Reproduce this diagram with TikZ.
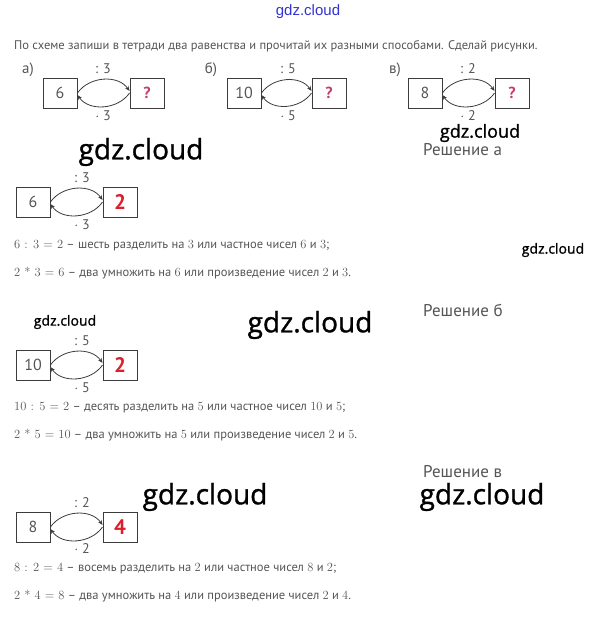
\documentclass[tikz,border=0pt]{standalone}
\usepackage{fontspec}
\usepackage{xcolor}
\usepackage{tikz}
\usetikzlibrary{arrows.meta, positioning}
\newfontfamily\ru{PT Sans}
\newfontfamily\wm[FakeBold=1.2]{Open Sans}
\newfontfamily\hd{Liberation Sans}
\definecolor{textgray}{RGB}{85,85,85}
\definecolor{boxgray}{RGB}{60,60,60}
\definecolor{ansred}{RGB}{220,30,45}
\definecolor{qpink}{RGB}{200,60,110}
\definecolor{wmblue}{RGB}{50,50,210}
\newcommand{\nm}[1]{{\rmfamily #1}}

\begin{document}
\begin{tikzpicture}[
    x=1pt, y=-1pt,
    numbox/.style={draw=boxgray, line width=0.9pt, minimum width=34pt, minimum height=30pt, inner sep=0pt, text=textgray, font=\ru\fontsize{16}{16}\selectfont},
    oplabel/.style={inner sep=0pt, text=textgray, font=\ru\fontsize{14}{14}\selectfont},
    arc/.style={draw=boxgray, line width=0.8pt, -{Stealth[length=5pt, width=4pt]}},
    eqline/.style={anchor=west, inner sep=0pt, text=textgray, font=\ru\fontsize{12.5}{12.5}\selectfont},
    heading/.style={anchor=west, inner sep=0pt, text=textgray, font=\ru\fontsize{17}{17}\selectfont},
    wmark/.style={inner sep=0pt, text=black, font=\wm\fontsize{#1}{#1}\selectfont}
]
    \useasboundingbox (0,0) rectangle (616,625);

    % Task
    \node[inner sep=0pt, text=wmblue, font=\hd\fontsize{15}{15}\selectfont] (top) at (308,12) {gdz.cloud};
    \node[eqline] (task) at (14,46) {По схеме запиши в тетради два равенства и прочитай их разными способами. Сделай рисунки.};

    % Schemes of the task
    \node[oplabel, font=\ru\fontsize{15}{15}\selectfont] (la) at (28,70) {а)};
    \node[numbox] (a6) at (60,93) {6};
    \node[numbox, text=qpink, font=\ru\bfseries\fontsize{16}{16}\selectfont] (aq) at (147,93) {?};
    \node[oplabel] (adiv) at (103,69) {: 3};
    \node[oplabel] (amul) at (103,116) {$\cdot$ 3};
    \draw[arc] (a6.east) to[out=55, in=125] ([yshift=2pt]aq.west);
    \draw[arc] (aq.west) to[out=-125, in=-55] ([yshift=-2pt]a6.east);

    \node[oplabel, font=\ru\fontsize{15}{15}\selectfont] (lb) at (211,70) {б)};
    \node[numbox] (b10) at (244,93) {10};
    \node[numbox, text=qpink, font=\ru\bfseries\fontsize{16}{16}\selectfont] (bq) at (329,93) {?};
    \node[oplabel] (bdiv) at (288,69) {: 5};
    \node[oplabel] (bmul) at (288,116) {$\cdot$ 5};
    \draw[arc] (b10.east) to[out=55, in=125] ([yshift=2pt]bq.west);
    \draw[arc] (bq.west) to[out=-125, in=-55] ([yshift=-2pt]b10.east);

    \node[oplabel, font=\ru\fontsize{15}{15}\selectfont] (lc) at (395,70) {в)};
    \node[numbox] (c8) at (425,93) {8};
    \node[numbox, text=qpink, font=\ru\bfseries\fontsize{16}{16}\selectfont] (cq) at (512,93) {?};
    \node[oplabel] (cdiv) at (468,69) {: 2};
    \node[oplabel] (cmul) at (468,116) {$\cdot$ 2};
    \draw[arc] (c8.east) to[out=55, in=125] ([yshift=2pt]cq.west);
    \draw[arc] (cq.west) to[out=-125, in=-55] ([yshift=-2pt]c8.east);

    % Solution a
    \node[wmark=18] (wm1) at (480,133) {gdz.cloud};
    \node[heading] (sola) at (423,150) {Решение а};
    \node[wmark=28] (wm2) at (141,152) {gdz.cloud};
    \node[numbox] (s6) at (33,202) {6};
    \node[numbox, text=ansred, font=\ru\bfseries\fontsize{21}{21}\selectfont] (s2) at (120,202) {2};
    \node[oplabel] (sdiv) at (82,178) {: 3};
    \node[oplabel] (smul) at (82,225) {$\cdot$ 3};
    \draw[arc] (s6.east) to[out=55, in=125] ([yshift=2pt]s2.west);
    \draw[arc] (s2.west) to[out=-125, in=-55] ([yshift=-2pt]s6.east);
    \node[eqline] (eqa1) at (14,246) {\nm{6 : 3 = 2} – шесть разделить на \nm{3} или частное чисел \nm{6} и \nm{3};};
    \node[wmark=14] (wm3) at (553,250) {gdz.cloud};
    \node[eqline] (eqa2) at (14,273) {\nm{2 * 3 = 6} – два умножить на \nm{6} или произведение чисел \nm{2} и \nm{3}.};

    % Solution b
    \node[heading] (solb) at (423,310) {Решение б};
    \node[wmark=14] (wm4) at (65,322) {gdz.cloud};
    \node[wmark=28] (wm5) at (310,325) {gdz.cloud};
    \node[numbox] (t10) at (33,365) {10};
    \node[numbox, text=ansred, font=\ru\bfseries\fontsize{21}{21}\selectfont] (t2) at (120,365) {2};
    \node[oplabel] (tdiv) at (82,341) {: 5};
    \node[oplabel] (tmul) at (82,388) {$\cdot$ 5};
    \draw[arc] (t10.east) to[out=55, in=125] ([yshift=2pt]t2.west);
    \draw[arc] (t2.west) to[out=-125, in=-55] ([yshift=-2pt]t10.east);
    \node[eqline] (eqb1) at (14,408) {\nm{10 : 5 = 2} – десять разделить на \nm{5} или частное чисел \nm{10} и \nm{5};};
    \node[eqline] (eqb2) at (14,435) {\nm{2 * 5 = 10} – два умножить на \nm{5} или произведение чисел \nm{2} и \nm{5}.};

    % Solution c
    \node[heading] (solc) at (423,472) {Решение в};
    \node[wmark=28] (wm6) at (205,497) {gdz.cloud};
    \node[wmark=28] (wm7) at (482,497) {gdz.cloud};
    \node[numbox] (u8) at (33,527) {8};
    \node[numbox, text=ansred, font=\ru\bfseries\fontsize{21}{21}\selectfont] (u4) at (120,527) {4};
    \node[oplabel] (udiv) at (82,503) {: 2};
    \node[oplabel] (umul) at (82,549) {$\cdot$ 2};
    \draw[arc] (u8.east) to[out=55, in=125] ([yshift=2pt]u4.west);
    \draw[arc] (u4.west) to[out=-125, in=-55] ([yshift=-2pt]u8.east);
    \node[eqline] (eqc1) at (14,569) {\nm{8 : 2 = 4} – восемь разделить на \nm{2} или частное чисел \nm{8} и \nm{2};};
    \node[eqline] (eqc2) at (14,596) {\nm{2 * 4 = 8} – два умножить на \nm{4} или произведение чисел \nm{2} и \nm{4}.};
\end{tikzpicture}
\end{document}
